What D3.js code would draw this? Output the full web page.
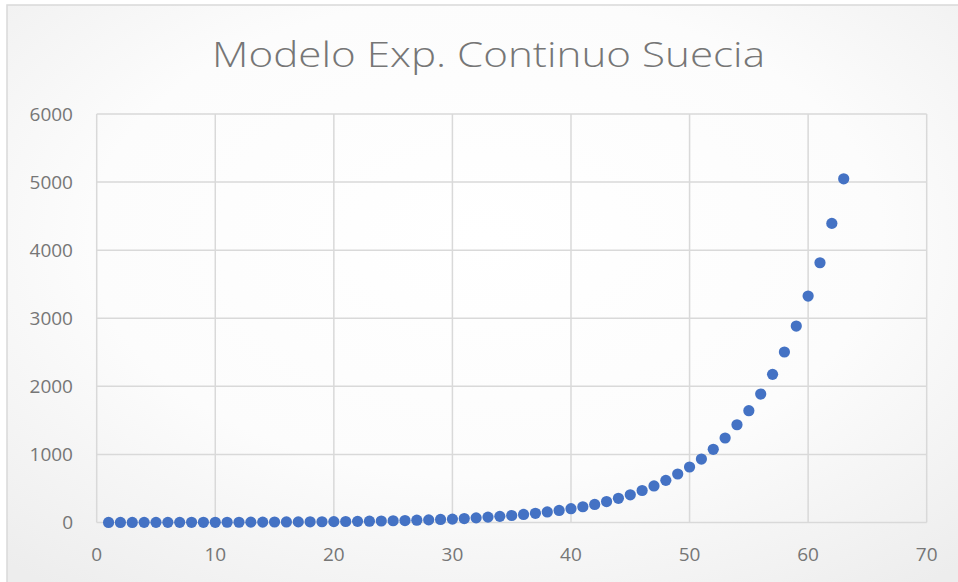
<!DOCTYPE html>
<html><head><meta charset="utf-8">
<script src="https://cdn.jsdelivr.net/npm/d3@7"></script>
<style>html,body{margin:0;padding:0;background:#fff;}svg{display:block;}</style>
</head><body>
<script>
const title = "Modelo Exp. Continuo Suecia";
const days = d3.range(1, 64);
const values = [1,1,1,2,2,2,2,3,3,3,4,4,5,6,7,8,9,10,11,13,15,17,19,22,26,29,34,39,45,50,
  58,68,79,90,103,118,135,155,177,203,231,265,308,355,407,470,537,619,712,815,
  932,1075,1241,1436,1642,1887,2176,2504,2885,3326,3815,4393,5048];
const xTicks = [0,10,20,30,40,50,60,70];
const yTicks = [0,1000,2000,3000,4000,5000,6000];

const W = 958, H = 582;
const svg = d3.select("body").append("svg").attr("width", W).attr("height", H);
const defs = svg.append("defs");
const grad = defs.append("radialGradient").attr("id","bg").attr("cx","50%").attr("cy","40%").attr("r","75%");
grad.append("stop").attr("offset","0%").attr("stop-color","#ffffff");
grad.append("stop").attr("offset","55%").attr("stop-color","#fcfcfc");
grad.append("stop").attr("offset","100%").attr("stop-color","#ededed");
svg.append("rect").attr("x",7).attr("y",5).attr("width",W).attr("height",H)
  .attr("fill","url(#bg)").attr("stroke","#d9d9d9").attr("stroke-width",1.5);

const x = d3.scaleLinear().domain([0,70]).range([96.7, 926.7]);
const y = d3.scaleLinear().domain([0,6000]).range([522.5, 114]);

const g = svg.append("g");
// vertical gridlines
g.selectAll("line.vx").data(xTicks).join("line")
  .attr("x1", d=>x(d)).attr("x2", d=>x(d)).attr("y1", y(6000)).attr("y2", y(0))
  .attr("stroke","#d9d9d9").attr("stroke-width",1.5);
g.selectAll("line.hy").data(yTicks).join("line")
  .attr("x1", x(0)).attr("x2", x(70)).attr("y1", d=>y(d)).attr("y2", d=>y(d))
  .attr("stroke","#d9d9d9").attr("stroke-width",1.5);

const font = "'Open Sans', 'Noto Sans', sans-serif";
svg.selectAll("text.yl").data(yTicks).join("text")
  .attr("x", 73).attr("y", d=>y(d)).attr("dy","0.35em").attr("text-anchor","end")
  .attr("font-family", font).attr("font-size", 19).attr("fill","#767676").text(d=>d);
svg.selectAll("text.xl").data(xTicks).join("text")
  .attr("x", d=>x(d)).attr("y", 554).attr("dy","0.35em").attr("text-anchor","middle")
  .attr("font-family", font).attr("font-size", 19).attr("fill","#767676").text(d=>d);

svg.append("text").attr("x", 488.5).attr("y", 67).attr("text-anchor","middle")
  .attr("font-family", font).attr("font-weight", 300).attr("font-size", 35)
  .attr("fill","#767676").attr("textLength", 553).attr("lengthAdjust","spacingAndGlyphs").text(title);

svg.append("g").selectAll("circle").data(days).join("circle")
  .attr("cx", (d)=>x(d)).attr("cy", (d,i)=>y(values[i])).attr("r", 5.6)
  .attr("fill","#4472c4");
</script>
</body></html>
